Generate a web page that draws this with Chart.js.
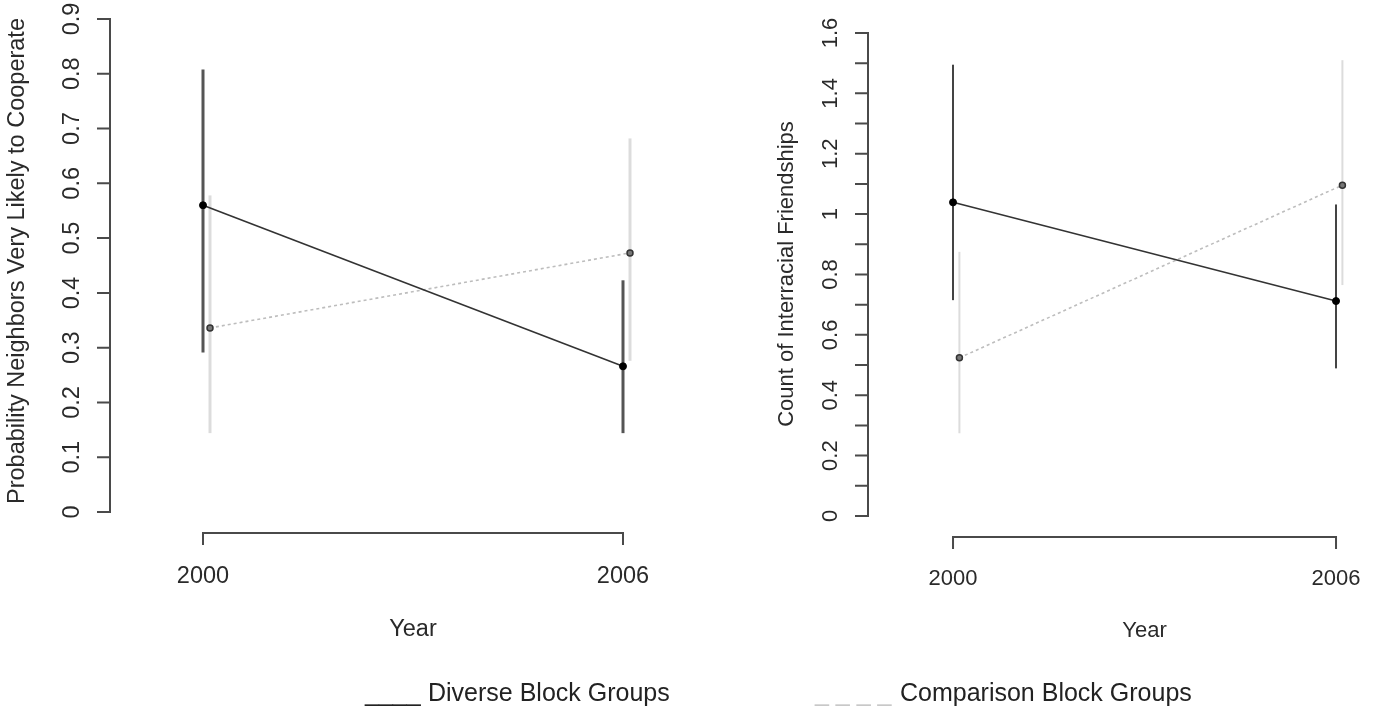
<!DOCTYPE html>
<html>
<head>
<meta charset="utf-8">
<script src="https://cdn.jsdelivr.net/npm/chart.js@4.4.0/dist/chart.umd.min.js"></script>
<style>
  body { margin: 0; background: #fff; width: 1376px; height: 713px; overflow: hidden; position: relative;
         font-family: "Liberation Sans", Arial, sans-serif; color: #222; }
  .panel { position: absolute; top: 0; width: 688px; height: 713px; }
  .legend { position: absolute; top: 680px; font-size: 25px; line-height: 24px; white-space: pre; }
</style>
</head>
<body>
<div class="panel" style="left:0"><canvas id="coopChart" width="688" height="713"></canvas></div>
<div class="panel" style="left:688px"><canvas id="friendChart" width="688" height="713"></canvas></div>
<span class="legend" style="left:365px">____</span>
<span class="legend" style="left:428px">Diverse Block Groups</span>
<span class="legend" style="left:815px; color:#c8c8c8">_ _ _ _</span>
<span class="legend" style="left:900px">Comparison Block Groups</span>

<script>
const years = [2000, 2006];
const xTickLabels = ['2000', '2006'];

// left panel: probability neighbours very likely to cooperate
const coopDiverse = [0.560, 0.266];
const coopDiverseLow = [0.291, 0.144];
const coopDiverseHigh = [0.808, 0.423];
const coopComparison = [0.336, 0.473];
const coopComparisonLow = [0.144, 0.276];
const coopComparisonHigh = [0.578, 0.682];
const coopTicks = [0, 0.1, 0.2, 0.3, 0.4, 0.5, 0.6, 0.7, 0.8, 0.9];
const coopTickLabels = ['0', '0.1', '0.2', '0.3', '0.4', '0.5', '0.6', '0.7', '0.8', '0.9'];

// right panel: count of interracial friendships
const friendDiverse = [1.039, 0.712];
const friendDiverseLow = [0.715, 0.489];
const friendDiverseHigh = [1.495, 1.032];
const friendComparison = [0.524, 1.096];
const friendComparisonLow = [0.274, 0.765];
const friendComparisonHigh = [0.875, 1.510];
const friendTicks = [0, 0.1, 0.2, 0.3, 0.4, 0.5, 0.6, 0.7, 0.8, 0.9, 1.0, 1.1, 1.2, 1.3, 1.4, 1.5, 1.6];
const friendTickLabels = ['0', '', '0.2', '', '0.4', '', '0.6', '', '0.8', '', '1', '', '1.2', '', '1.4', '', '1.6'];

// comparison groups are nudged right of the diverse groups
const dodge = 0.1;

const TEXT = '#2a2a2a';

// R style detached axes drawn from the chart's own scales
const rAxes = {
  id: 'rAxes',
  afterDraw(chart, args, opts) {
    const ctx = chart.ctx;
    const xs = chart.scales.x;
    const ys = chart.scales.y;
    const left = chart.chartArea.left;
    const bottom = chart.chartArea.bottom;
    const yTop = ys.getPixelForValue(opts.yTicks[opts.yTicks.length - 1]);
    const yBot = ys.getPixelForValue(opts.yTicks[0]);
    const xL = xs.getPixelForValue(opts.xTicks[0]);
    const xR = xs.getPixelForValue(opts.xTicks[opts.xTicks.length - 1]);

    ctx.save();
    ctx.strokeStyle = '#4a4a4a';
    ctx.lineWidth = 2;
    ctx.beginPath();
    ctx.moveTo(left, yTop);
    ctx.lineTo(left, yBot);
    opts.yTicks.forEach(v => {
      const p = ys.getPixelForValue(v);
      ctx.moveTo(left - 13, p);
      ctx.lineTo(left + 1, p);
    });
    ctx.moveTo(xL - 1, bottom);
    ctx.lineTo(xR + 1, bottom);
    opts.xTicks.forEach(v => {
      const p = xs.getPixelForValue(v);
      ctx.moveTo(p, bottom - 1);
      ctx.lineTo(p, bottom + 12);
    });
    ctx.stroke();

    ctx.fillStyle = TEXT;
    ctx.font = opts.fontSize + 'px "Liberation Sans", Arial, sans-serif';
    ctx.textAlign = 'center';
    ctx.textBaseline = 'middle';
    opts.yTicks.forEach((v, i) => {
      if (!opts.yLabels[i]) return;
      ctx.save();
      ctx.translate(left - 37, ys.getPixelForValue(v));
      ctx.rotate(-Math.PI / 2);
      ctx.fillText(opts.yLabels[i], 0, 0);
      ctx.restore();
    });
    opts.xTicks.forEach((v, i) => {
      ctx.fillText(opts.xLabels[i], xs.getPixelForValue(v), bottom + opts.xLabelGap);
    });
    ctx.fillText(opts.xTitle, (xL + xR) / 2, bottom + opts.xTitleGap);

    ctx.save();
    ctx.translate(left - opts.yTitleOffset, opts.yTitleY);
    ctx.rotate(-Math.PI / 2);
    ctx.fillText(opts.yTitle, 0, 0);
    ctx.restore();
    ctx.restore();
  }
};

function buildDatasets(mean, low, high, compMean, compLow, compHigh, st) {
  const sets = [];
  years.forEach((yr, i) => {
    sets.push({
      data: [{ x: yr, y: low[i] }, { x: yr, y: high[i] }],
      showLine: true, borderColor: st.barColor, borderWidth: st.barWidth,
      pointRadius: 0, order: 3
    });
    sets.push({
      data: [{ x: yr + dodge, y: compLow[i] }, { x: yr + dodge, y: compHigh[i] }],
      showLine: true, borderColor: '#dcdcdc', borderWidth: st.compBarWidth,
      pointRadius: 0, order: 4
    });
  });
  sets.push({
    data: years.map((yr, i) => ({ x: yr, y: mean[i] })),
    showLine: true, borderColor: '#333', borderWidth: 1.6,
    pointRadius: 3.5, pointBackgroundColor: '#000', pointBorderColor: '#000', pointBorderWidth: 1,
    order: 1
  });
  sets.push({
    data: years.map((yr, i) => ({ x: yr + dodge, y: compMean[i] })),
    showLine: true, borderColor: '#bdbdbd', borderWidth: 1.6, borderDash: [3, 3],
    pointRadius: 3, pointBackgroundColor: '#777', pointBorderColor: '#333', pointBorderWidth: 1.5,
    order: 2
  });
  return sets;
}

function makeChart(id, datasets, area, xRange, yRange, axisOpts) {
  return new Chart(document.getElementById(id), {
    type: 'scatter',
    data: { datasets: datasets },
    options: {
      responsive: false,
      animation: false,
      layout: { padding: area },
      scales: {
        x: { type: 'linear', display: false, min: xRange[0], max: xRange[1] },
        y: { type: 'linear', display: false, min: yRange[0], max: yRange[1] }
      },
      elements: { line: { tension: 0 } },
      datasets: { scatter: { clip: false } },
      plugins: {
        legend: { display: false },
        tooltip: { enabled: false },
        rAxes: axisOpts
      }
    },
    plugins: [rAxes]
  });
}

makeChart('coopChart',
  buildDatasets(coopDiverse, coopDiverseLow, coopDiverseHigh,
    coopComparison, coopComparisonLow, coopComparisonHigh,
    { barColor: '#555', barWidth: 3, compBarWidth: 3 }),
  { left: 110, right: 28, top: 19, bottom: 180 },
  [1998.6714, 2006.5286],
  [-0.0383, 0.9],
  { yTicks: coopTicks, yLabels: coopTickLabels, xTicks: years, xLabels: xTickLabels,
    xTitle: 'Year', yTitle: 'Probability Neighbors Very Likely to Cooperate',
    yTitleOffset: 92, yTitleY: 261, fontSize: 23.5, xLabelGap: 44, xTitleGap: 97 });

makeChart('friendChart',
  buildDatasets(friendDiverse, friendDiverseLow, friendDiverseHigh,
    friendComparison, friendComparisonLow, friendComparisonHigh,
    { barColor: '#444', barWidth: 2, compBarWidth: 2 }),
  { left: 180, right: 8, top: 33, bottom: 176 },
  [1998.668, 2006.501],
  [-0.0696, 1.6],
  { yTicks: friendTicks, yLabels: friendTickLabels, xTicks: years, xLabels: xTickLabels,
    xTitle: 'Year', yTitle: 'Count of Interracial Friendships',
    yTitleOffset: 81, yTitleY: 274, fontSize: 22, xLabelGap: 42, xTitleGap: 94 });
</script>
</body>
</html>
